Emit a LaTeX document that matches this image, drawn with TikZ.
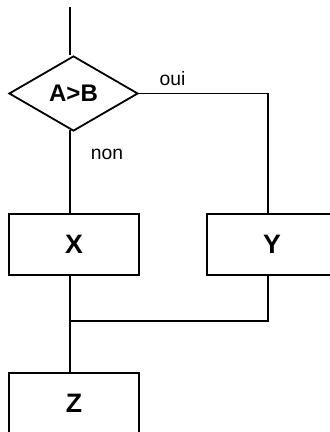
\documentclass[tikz,border=0pt]{standalone}
\usepackage{fontspec}
\setmainfont{Liberation Sans}
\usetikzlibrary{shapes.geometric}

\tikzset{
  block/.style={draw, rectangle, minimum width=97.5pt, minimum height=45.75pt, inner sep=0pt, font=\fontsize{20}{20}\selectfont\bfseries},
  decision/.style={draw, diamond, minimum width=96.75pt, minimum height=56.25pt, inner sep=0pt, font=\fontsize{18}{18}\selectfont\bfseries},
  lbl/.style={font=\fontsize{14.5}{14.5}\selectfont, inner sep=0pt}
}

\begin{document}
\begin{tikzpicture}[x=0.75pt, y=-0.75pt, line width=1.35pt, line join=miter]
\useasboundingbox (0,0) rectangle (329,432);

% Test and the three blocks
\coordinate (start) at (70,7);
\node[decision] (test) at (73.5,93.5) {A>B};
\node[block] (x) at (74,244.5) {X};
\node[block] (y) at (272,244.5) {Y};
\node[block] (z) at (74,403.5) {Z};
\coordinate (merge) at (70,321);

% Connectors
\draw (start) -- (start |- test.north);
\draw (test.east) -| node[lbl, pos=.13, above=5pt] {oui} ([xshift=-3pt]y.north);
\draw ([yshift=1.5pt]start |- test.south) -- node[lbl, pos=.29, anchor=west, xshift=15pt] {non} (start |- x.north);
\draw (start |- x.south) -- (merge);
\draw ([xshift=-3pt]y.south) |- (merge);
\draw (merge) -- (start |- z.north);
\end{tikzpicture}
\end{document}
